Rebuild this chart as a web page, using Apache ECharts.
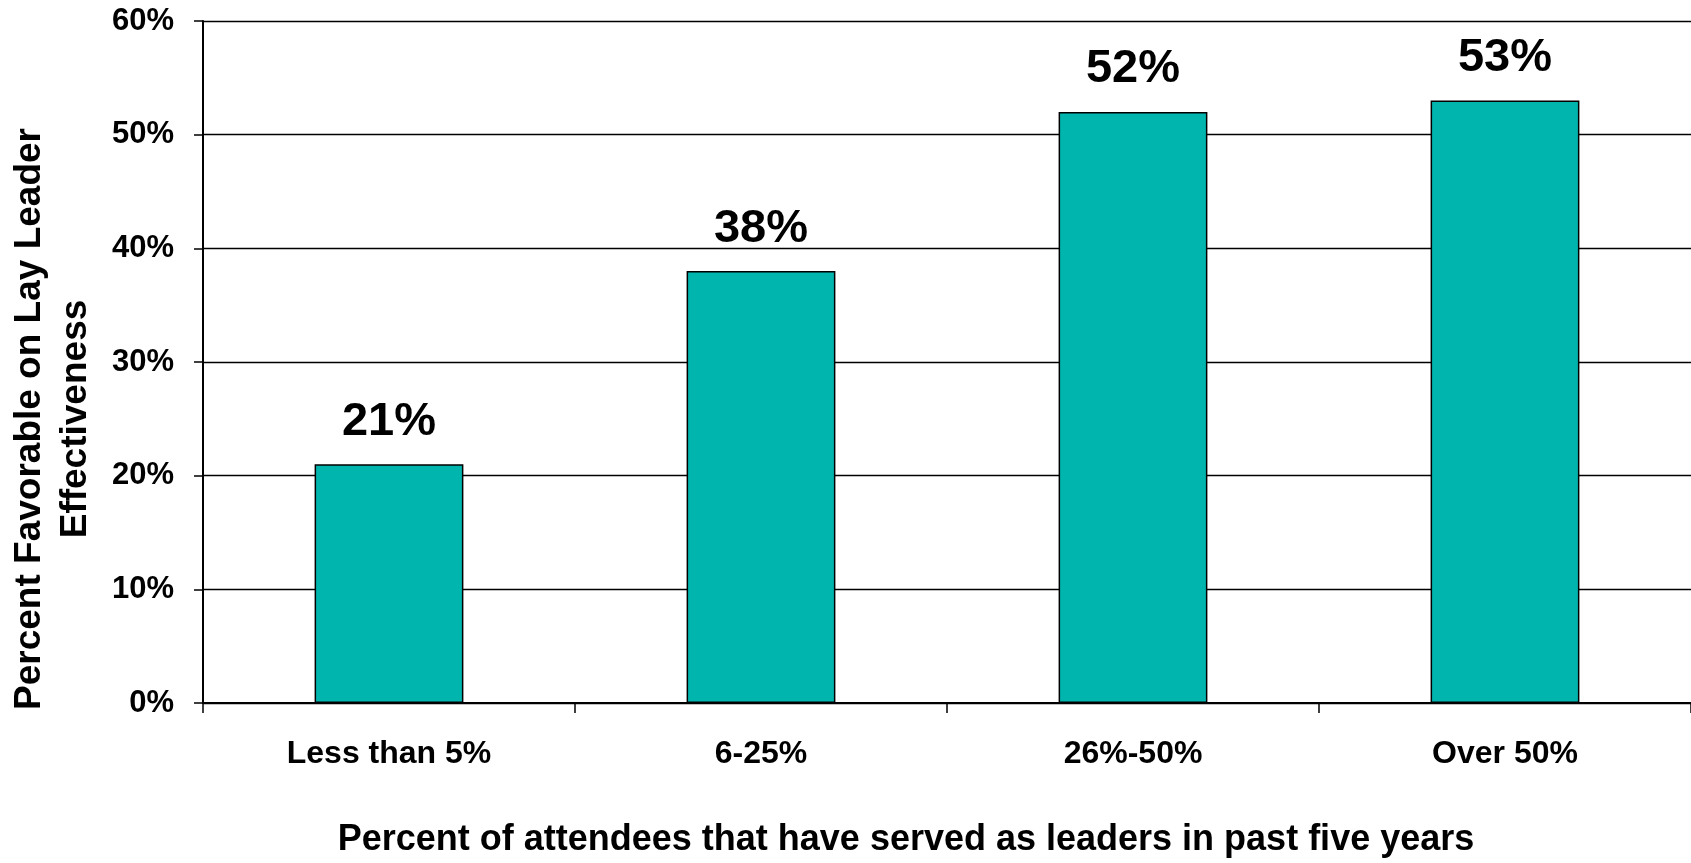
<!DOCTYPE html>
<html>
<head>
<meta charset="utf-8">
<title>Lay Leader Effectiveness</title>
<script src="https://cdn.jsdelivr.net/npm/echarts@6/dist/echarts.min.js"></script>
<style>
  html, body { margin: 0; padding: 0; background: #ffffff; }
  #chart { width: 1691px; height: 863px; }
</style>
</head>
<body>
<div id="chart"></div>
<script>
// Share of attendees who served as leaders in the past five years
const categories = ['Less than 5%', '6-25%', '26%-50%', 'Over 50%'];
// Percent favorable on lay leader effectiveness
const favorable = [21, 38, 52, 53];
// Value axis range and step (percent)
const yMin = 0;
const yMax = 60;
const yStep = 10;

const FONT = '"Liberation Sans", Arial, Helvetica, sans-serif';
const chart = echarts.init(document.getElementById('chart'), null, { renderer: 'canvas' });

chart.setOption({
  backgroundColor: '#ffffff',
  animation: false,
  grid: { left: 203, top: 21, width: 1496, height: 688, containLabel: false },
  xAxis: {
    type: 'category',
    data: categories,
    boundaryGap: true,
    axisLine: { show: true, lineStyle: { color: '#000', width: 2 } },
    axisTick: { show: true, length: 10, alignWithLabel: false, lineStyle: { color: '#000', width: 1.5 } },
    axisLabel: {
      margin: 35,
      color: '#000',
      fontFamily: FONT,
      fontWeight: 'bold',
      fontSize: 32
    },
    name: 'Percent of attendees that have served as leaders in past five years',
    nameLocation: 'middle',
    nameGap: 119,
    nameTextStyle: {
      color: '#000',
      fontFamily: FONT,
      fontWeight: 'bold',
      fontSize: 36,
      padding: [0, 82, 0, 0]
    },
    splitLine: { show: false }
  },
  yAxis: {
    type: 'value',
    min: yMin,
    max: yMax,
    interval: yStep,
    axisLine: { show: true, lineStyle: { color: '#000', width: 2 } },
    axisTick: { show: true, length: 9, lineStyle: { color: '#000', width: 1.5 } },
    axisLabel: {
      margin: 29,
      color: '#000',
      fontFamily: FONT,
      fontWeight: 'bold',
      fontSize: 31,
      formatter: v => v + '%'
    },
    splitLine: { show: true, lineStyle: { color: '#000', width: 1.3 } }
  },
  graphic: [{
    type: 'text',
    x: 53,
    y: 419,
    rotation: Math.PI / 2,
    style: {
      text: 'Percent Favorable on Lay Leader\nEffectiveness',
      fill: '#000',
      font: 'bold 37px ' + FONT,
      align: 'center',
      verticalAlign: 'middle',
      lineHeight: 46
    }
  }],
  series: [{
    type: 'bar',
    data: favorable,
    barWidth: '40%',
    itemStyle: {
      color: '#00B5AE',
      borderColor: '#000',
      borderWidth: 1.5
    },
    label: {
      show: true,
      position: 'top',
      distance: 19,
      color: '#000',
      fontFamily: FONT,
      fontWeight: 'bold',
      fontSize: 47,
      formatter: p => p.value + '%'
    }
  }]
});
</script>
</body>
</html>
